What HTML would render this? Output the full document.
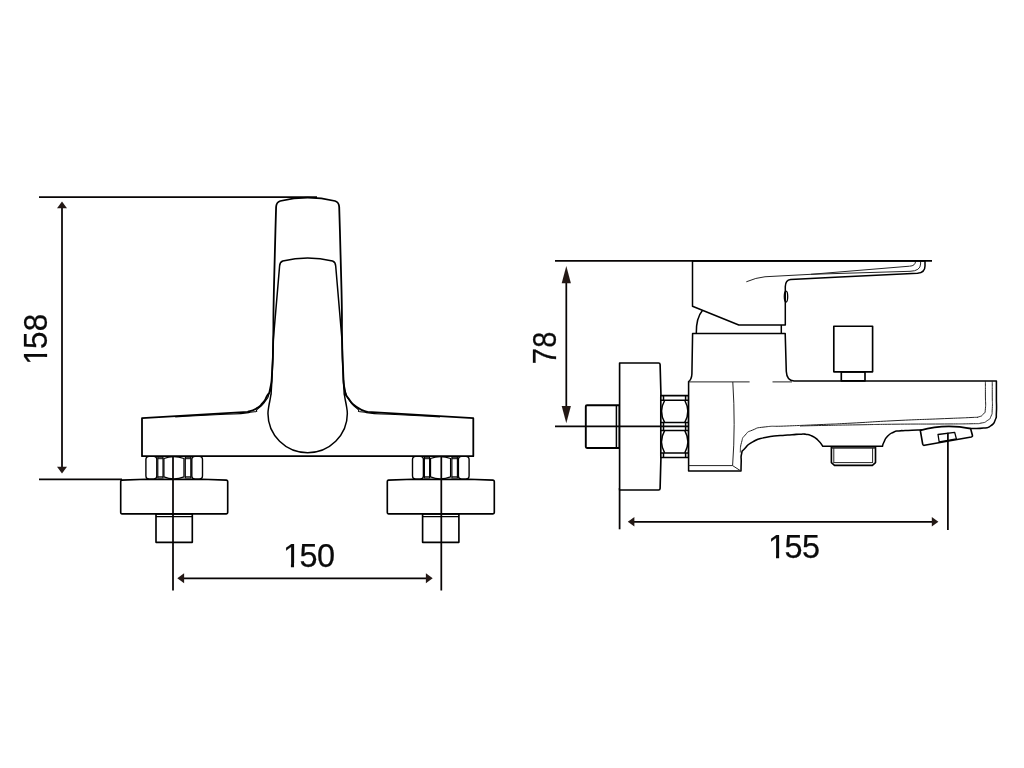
<!DOCTYPE html>
<html><head><meta charset="utf-8">
<style>
html,body{margin:0;padding:0;background:#fff;}
body{width:1024px;height:768px;overflow:hidden;}
svg{display:block;}
text{font-family:"Liberation Sans",sans-serif;font-size:32.4px;fill:#0a0a0a;stroke:#0a0a0a;stroke-width:0.25px;filter:grayscale(1);}
.m{fill:none;stroke:#000;stroke-width:1.8;stroke-linejoin:round;stroke-linecap:butt;}
.n{fill:none;stroke:#000;stroke-width:1.5;stroke-linejoin:round;}
.f{fill:#fff;stroke:#000;stroke-width:1.8;stroke-linejoin:round;}
.g{fill:#fff;stroke:#000;stroke-width:1.5;stroke-linejoin:round;}
.h{fill:#fff;stroke:#000;stroke-width:1.65;stroke-linejoin:round;}
.t{fill:none;stroke:#222;stroke-width:1;}
.d{fill:none;stroke:#070404;stroke-width:1.75;}
.a{fill:#231815;stroke:none;}
</style></head><body>
<svg width="1024" height="768" viewBox="0 0 1024 768">
<rect width="1024" height="768" fill="#fff"/>

<g id="left">
<path class="d" d="M39,197.15H317"/>
<path class="d" d="M39,479.4H122"/>
<path class="d" d="M62,205V470"/>
<path class="a" d="M62,201.6l5,6.6h-10z"/>
<path class="a" d="M62,473.4l5,-6.6h-10z"/>
<path class="h" d="M156.0,513.8H192.3V542.3H156.0z"/><path class="n" style="stroke-width:1.2" d="M156.0,516.6H192.3"/><path class="h" d="M121.8,480.1L146,479.3H202L226.4,480.1Q227.7,480.3 227.7,481.6V512.5Q227.7,513.8 226.4,513.8H121.8Q120.7,513.8 120.7,512.5V481.6Q120.7,480.3 121.8,480.1z"/>
<path class="h" d="M422.6,513.8H458.9V542.3H422.6z"/><path class="n" style="stroke-width:1.2" d="M422.6,516.6H458.9"/><path class="h" d="M388.40000000000003,480.1L412.6,479.3H468.6L493.0,480.1Q494.3,480.3 494.3,481.6V512.5Q494.3,513.8 493.0,513.8H388.40000000000003Q387.3,513.8 387.3,512.5V481.6Q387.3,480.3 388.40000000000003,480.1z"/>
<g id="nutL" style="stroke-width:1.3">
<rect class="g" x="145.9" y="456.4" width="10.9" height="22.5" rx="3.2" style="stroke-width:1.4"/>
<rect class="g" x="191.8" y="456.4" width="10.7" height="22.5" rx="3.2" style="stroke-width:1.4"/>
<path class="g" style="stroke-width:1.15" d="M157.8,457.2H163V478H157.8z"/>
<path class="g" style="stroke-width:1.15" d="M185.3,457.2H190.8V478H185.3z"/>
<path class="n" style="stroke-width:1" d="M157.8,458.7H163M157.8,476.8H163M185.3,458.7H190.8M185.3,476.8H190.8"/>
<path class="g" style="stroke-width:1.3" d="M163.9,458.5Q173.5,454.6 184,458.5V476.8Q173.5,480.8 163.9,476.8z"/>
</g>
<use href="#nutL" x="266.6"/>
<path class="f" d="M142,456.2V418.2L247.7,411.9C250.47,410.83 251.07,411.60 256.00,408.70C260.93,405.80 258.83,407.43 262.50,403.20C266.17,398.97 264.40,401.07 267.00,396.00C269.60,390.93 268.57,396.67 270.30,388.00C272.03,379.33 271.23,386.00 272.20,370.00C273.17,354.00 272.63,366.67 273.20,340.00C273.77,313.33 272.93,334.33 273.90,290.00C274.87,245.67 275.37,234.67 276.10,207.00Q276.3,202.3 280.25,201A117,117 0 0 1 335.05,201Q339,202.3 339.2,207C339.97,234.67 340.53,245.67 341.50,290.00C342.47,334.33 341.57,313.33 342.10,340.00C342.63,366.67 342.27,353.75 343.10,370.00C343.93,386.25 342.72,379.17 344.60,388.75C346.48,398.33 344.45,392.50 348.75,398.75C353.05,405.00 351.25,403.12 357.50,407.50C363.75,411.88 364.17,410.43 367.50,411.90L473.3,418.2V456.2z"/>
<path class="t" style="stroke:#000;stroke-width:1.1" d="M343.60,380.00C343.83,382.67 343.50,383.50 344.30,388.00C345.10,392.50 344.37,389.43 346.00,393.50C347.63,397.57 345.60,395.30 349.20,400.20C352.80,405.10 351.03,404.07 356.80,408.20C362.57,412.33 352.10,410.43 366.50,412.60C380.90,414.77 375.50,413.27 400.00,414.70C424.50,416.13 426.67,416.17 440.00,416.90"/>
<path class="t" style="stroke:#000;stroke-width:1.1" d="M271.60,380.00C271.37,382.67 271.70,383.50 270.90,388.00C270.10,392.50 270.83,389.43 269.20,393.50C267.57,397.57 269.60,395.30 266.00,400.20C262.40,405.10 264.17,404.07 258.40,408.20C252.63,412.33 263.10,410.43 248.70,412.60C234.30,414.77 239.70,413.27 215.20,414.70C190.70,416.13 188.53,416.17 175.20,416.90"/>
<path class="n" d="M279.6,266Q279.8,262.1 282.75,261A108.4,108.4 0 0 1 332.55,261Q335.5,262.1 335.7,266L337.4,286L342,340C342.33,350.00 342.33,353.33 343.00,370.00C343.67,386.67 343.47,381.33 344.00,390.00C344.53,398.67 343.70,390.17 344.60,396.00C345.50,401.83 345.78,401.63 346.70,407.50C347.62,413.37 347.13,411.57 347.35,413.60A39.7,39.1 0 0 1 267.95,413.6C268.17,411.57 267.68,413.37 268.60,407.50C269.52,401.63 269.80,401.83 270.70,396.00C271.60,390.17 270.77,398.67 271.30,390.00C271.83,381.33 271.63,386.67 272.30,370.00C272.97,353.33 272.97,350.00 273.30,340.00L277.9,286z"/>
<path class="d" d="M173,456.5V590.5M441.3,456.5V590.5"/>
<path class="d" d="M182,578.3H428"/>
<path class="a" d="M177.3,578.3l6.8,-5v10z"/>
<path class="a" d="M432.7,578.3l-6.8,-5v10z"/>
<g transform="translate(0,566.6)"><text x="282.90 299.50 317.00" y="0">150</text><rect x="284.07" y="-3.50" width="6.85" height="4.9" fill="#fff"/><rect x="294.04" y="-3.50" width="6.05" height="4.9" fill="#fff"/></g>
<g transform="translate(47.2,363.3) rotate(-90) scale(0.97,1)"><text x="-1.47 14.78 33.02" y="0">158</text><rect x="-0.30" y="-3.50" width="6.85" height="4.9" fill="#fff"/><rect x="9.67" y="-3.50" width="6.05" height="4.9" fill="#fff"/></g>
</g>
<g id="right">
<path class="d" d="M555,260.9H700"/>
<path class="d" d="M566.3,280V408"/>
<path class="a" d="M566.3,266l4.6,17.2h-9.2z"/>
<path class="a" d="M566.3,423.2l4.6,-17.2h-9.2z"/>
<path class="d" d="M619.6,488V529.3"/>
<path class="d" d="M632,521.75H934"/>
<path class="a" d="M627.8,521.75l6.6,-4.8v9.6z"/>
<path class="a" d="M938.4,521.75l-6.6,-4.8v9.6z"/>
<path class="h" style="stroke-width:1.9" d="M587,405.2H619.5V448H587Q585.8,448 585.8,446.8V406.4Q585.8,405.2 587,405.2z"/>
<path class="n" d="M616.4,405V448"/>
<path class="h" d="M619.6,363H658.6Q660,363 660.1,364.5Q662.4,426 660.1,488.5Q660,490 658.6,490H619.6z"/>
<rect class="h" x="660.8" y="395.6" width="27.8" height="61.9"/>
<path class="n" d="M660.8,400.3H688.6M660.8,422.5H688.6M660.8,430.6H688.6M660.8,452.9H688.6"/>
<path class="n" d="M663.5,395.6V400.3M685.6,395.6V400.3M663.5,422.5V430.6M685.6,422.5V430.6M663.5,452.9V457.5M685.6,452.9V457.5"/>
<path class="n" d="M664.6,400.5Q658.4,411.5 664.6,422.4M684.8,400.5Q691,411.5 684.8,422.4M664.6,430.7Q658.4,441.8 664.6,452.8M684.8,430.7Q691,441.8 684.8,452.8"/>
<path class="d" d="M555,426.3H688.6"/>
<path class="f" style="stroke-width:1.55" d="M688.6,381.6V471H741C741.07,468.00 741.00,467.75 741.20,462.00C741.40,456.25 740.47,458.17 741.60,453.75C742.73,449.33 740.88,452.70 744.60,448.75C748.32,444.80 745.87,445.65 752.75,441.90C759.63,438.15 756.08,439.60 765.25,437.50C774.42,435.40 771.33,436.53 780.25,435.60C789.17,434.67 785.42,435.17 792.00,434.70C798.58,434.23 795.50,434.37 800.00,434.20C804.50,434.03 801.67,433.67 805.50,434.20C809.33,434.73 807.42,433.87 811.50,435.80C815.58,437.73 814.00,436.52 817.75,440.00C821.50,443.48 821.08,444.17 822.75,446.25H882.5C882.92,445.00 882.08,445.83 883.75,442.50C885.42,439.17 884.25,439.68 887.50,436.25C890.75,432.82 889.67,433.98 893.50,432.20C897.33,430.42 895.17,431.43 899.00,430.90C902.83,430.37 900.67,430.80 905.00,430.60C909.33,430.40 907.00,430.50 912.00,430.30C917.00,430.10 917.33,430.10 920.00,430.00L971,428.5C975.17,428.37 976.83,429.07 983.50,428.10C990.17,427.13 987.10,428.30 991.00,425.60C994.90,422.90 993.40,424.37 995.20,420.00C997.00,415.63 996.00,419.17 996.40,412.50C996.80,405.83 996.40,404.17 996.40,400.00V381H794Q786.8,380.6 786.3,371.5L785.2,333.4H692.6L691.9,374Q691.6,379.6 688.6,381.6z"/>
<path class="t" d="M688.6,381.9H749.6M772.5,381.9H792"/>
<path class="t" d="M732.8,382Q735.6,425 732.6,465.6M688.6,465.6H732.6L740.6,470.8"/>
<path class="t" d="M740.25,452.50C740.67,449.17 739.83,448.33 741.50,442.50C743.17,436.67 741.50,439.17 745.25,435.00C749.00,430.83 746.08,432.70 752.75,430.00C759.42,427.30 754.00,428.23 765.25,426.90C776.50,425.57 768.25,426.77 786.50,426.00C804.75,425.23 798.17,425.57 820.00,424.60C841.83,423.63 826.67,424.43 852.00,423.10C877.33,421.77 866.67,422.03 896.00,420.60C925.33,419.17 915.00,419.83 940.00,418.80C965.00,417.77 958.17,418.13 971.00,417.50C983.83,416.87 974.33,418.15 978.50,416.90C982.67,415.65 981.20,416.47 983.50,413.75C985.80,411.03 984.77,415.00 985.40,408.75C986.03,402.50 985.40,404.25 985.40,395.00C985.40,385.75 985.40,385.67 985.40,381.00"/>
<path class="t" d="M800.00,426.00C808.33,425.80 805.00,425.80 825.00,425.40C845.00,425.00 836.33,425.20 860.00,424.80C883.67,424.40 869.33,424.47 896.00,424.20C922.67,423.93 915.00,424.15 940.00,424.00C965.00,423.85 957.33,424.05 971.00,423.75C984.67,423.45 975.58,424.15 981.00,423.10C986.42,422.05 983.92,422.88 987.25,420.60C990.58,418.32 989.33,420.20 991.00,416.25C992.67,412.30 991.83,415.83 992.25,408.75C992.67,401.67 992.25,404.25 992.25,395.00C992.25,385.75 992.25,385.67 992.25,381.00"/>
<path class="h" d="M831.4,446.9H875.5V462.6L872.4,465.3H834.5L831.4,462.6z"/>
<path class="t" d="M833.8,448V463M872.6,448V463M831.4,448.2H875.5M833.8,462.6H872.6"/>
<path class="h" d="M920.3,430.4L922.7,444.2Q923,445.6 924.5,445.3L971.3,437Q972.7,436.7 972.4,435.3L970.6,428.6Q945,423.4 920.3,430.4z"/>
<path class="n" style="stroke-width:1.3" d="M938,434.5L954.7,432.3L956.4,438.9L939.2,442z"/>
<path class="d" d="M947.9,432.8V529.9"/>
<path class="h" d="M841.3,371.8H865V380.9H841.3z"/>
<path class="h" d="M833.8,326.2H872.6V371.8H833.8z"/>
<path class="n" d="M696.3,333.3Q696,318 702.4,310.4"/>
<path class="n" d="M781.3,325V333.3"/>
<path class="h" style="stroke-width:1.5" d="M692.5,260.9V306.3L738.8,325H785.3V286.5Q785.5,280.3 790.6,279.6L840,277L917.5,273.3Q925,272.6 925,266V260.9z"/>
<path class="t" d="M746.3,281.8Q756,277.6 765,276.75L811,274.3L909.5,266.2Q915.4,266 915.6,261"/>
<path class="t" d="M811,274.3L910,271.3Q920.4,271 920.6,264V261"/>
<ellipse class="n" cx="786" cy="296.6" rx="1.7" ry="5.5" style="stroke-width:1.3"/>
<path d="M692,260.9H932" fill="none" stroke="#000" stroke-width="1.9"/>
<g transform="translate(0,558.3)"><text x="768.00 784.45 801.95" y="0">155</text><rect x="769.17" y="-3.50" width="6.85" height="4.9" fill="#fff"/><rect x="779.14" y="-3.50" width="6.05" height="4.9" fill="#fff"/></g>
<g transform="translate(556.2,362.7) rotate(-90) scale(0.895,1)"><text x="-1.66 16.69" y="0">78</text></g>
</g>
</svg>
</body></html>
